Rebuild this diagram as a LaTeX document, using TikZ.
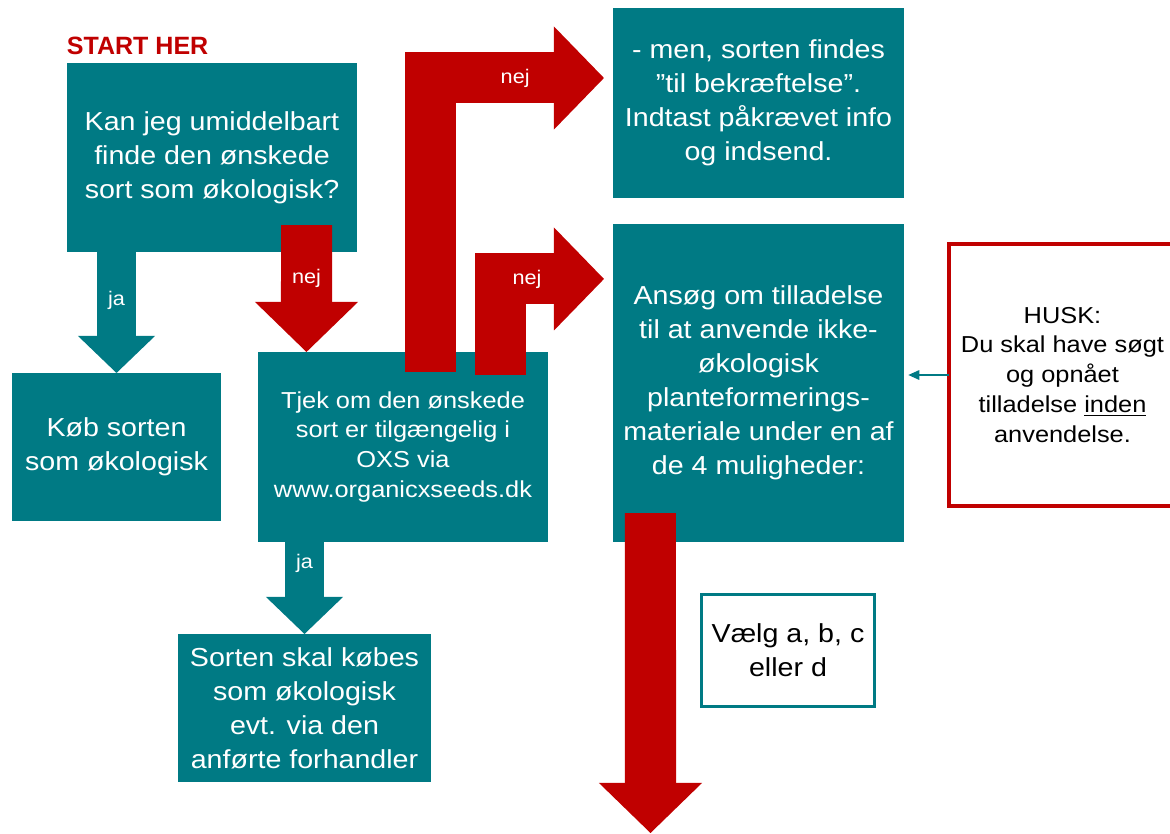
\documentclass[tikz,border=0pt]{standalone}
\usepackage{fontspec}
\setmainfont{Liberation Sans}[FakeStretch=1.1]
\newfontfamily\headfont{Liberation Sans}
\usetikzlibrary{arrows.meta,calc}

\definecolor{oxsteal}{HTML}{007A84}
\definecolor{oxsred}{HTML}{C00000}

\begin{document}
\begin{tikzpicture}[x=0.025cm,y=-0.025cm,every node/.style={outer sep=0pt,inner sep=0pt,align=center}]
\tikzstyle{bigtxt}=[font=\fontsize{18.5}{24.2}\selectfont]
\tikzstyle{smalltxt}=[font=\fontsize{16.4}{21.3}\selectfont]
\tikzstyle{tealbox}=[fill=oxsteal,text=white]
\tikzstyle{nejarrow}=[draw=oxsred,line width=1.275cm,-{Triangle[length=1.25cm,width=2.575cm,line width=0pt]}]
\tikzstyle{jaarrow}=[draw=oxsteal,line width=0.975cm,-{Triangle[length=0.925cm,width=1.925cm,line width=0pt]}]
\tikzstyle{arrowtxt}=[text=white,font=\fontsize{14}{16}\selectfont]

\useasboundingbox (0,0) rectangle (1170,834);

% boxes
\node (q1) [tealbox, bigtxt, minimum width=7.25cm, minimum height=4.725cm] at (212,157.5) {Kan jeg umiddelbart\\finde den ønskede\\sort som økologisk?};
\node (start) [anchor=base west, text=oxsred, font={\headfont\bfseries\fontsize{17.8}{20}\selectfont}] at ([yshift=0.2cm]q1.north west) {START HER};
\node (kob) [tealbox, bigtxt, minimum width=5.225cm, minimum height=3.7cm] at (116.5,447) {Køb sorten\\som økologisk};
\node (tjek) [tealbox, smalltxt, minimum width=7.25cm, minimum height=4.75cm] at (403,447) {Tjek om den ønskede\\sort er tilgængelig i\\OXS via\\www.organicxseeds.dk};
\node (sorten) [tealbox, bigtxt, minimum width=6.325cm, minimum height=3.7cm] at (304.5,708) {Sorten skal købes\\som økologisk\\evt. via den\\anførte forhandler};
\node (men) [tealbox, bigtxt, minimum width=7.275cm, minimum height=4.75cm] at (758.5,103) {- men, sorten findes\\”til bekræftelse”.\\Indtast påkrævet info\\og indsend.};
\node (ansog) [tealbox, bigtxt, minimum width=7.275cm, minimum height=7.95cm] at (758.5,383) {Ansøg om tilladelse\\til at anvende ikke-\\økologisk\\planteformerings-\\materiale under en af\\de 4 muligheder:};
\node (husk) [draw=oxsred, line width=2.85pt, smalltxt, minimum width=5.675cm, minimum height=6.55cm] at (1062.5,375) {HUSK:\\Du skal have søgt\\og opnået\\tilladelse \underline{inden}\\anvendelse.};
\coordinate (next) at (650.5,833);

% arrows
\draw [jaarrow] (kob.north |- q1.south) -- (kob.north) node[arrowtxt,pos=0.4] {ja};
\draw [jaarrow] (sorten.north |- tjek.south) -- (sorten.north) node[arrowtxt,pos=0.23] {ja};
\draw [nejarrow] ([xshift=2.3625cm,yshift=0.675cm]q1.south) -- ([xshift=-2.4125cm]tjek.north) node[arrowtxt,pos=0.42] {nej};
\draw [nejarrow] ([xshift=0.6875cm,yshift=-0.5cm]tjek.north) |- ([xshift=-0.225cm,yshift=0.625cm]men.west) node[arrowtxt,pos=0.744] {nej};
\draw [nejarrow] ([xshift=2.425cm,yshift=-0.575cm]tjek.north) |- ([xshift=-0.225cm,yshift=2.6cm]ansog.west) node[arrowtxt,pos=0.63] {nej};
\draw [nejarrow] ([xshift=-2.7cm,yshift=0.725cm]ansog.south) -- (next);

\node (valg) [draw=oxsteal, line width=2.1pt, fill=white, bigtxt, minimum width=4.325cm, minimum height=2.8cm] at (788,650.5) {Vælg a, b, c\\eller d};

\draw [oxsteal, line width=1.8pt, -{Triangle[length=8pt,width=6.5pt]}] (husk.west) -- ([xshift=0.1cm]ansog.east |- husk.west);
\end{tikzpicture}
\end{document}
